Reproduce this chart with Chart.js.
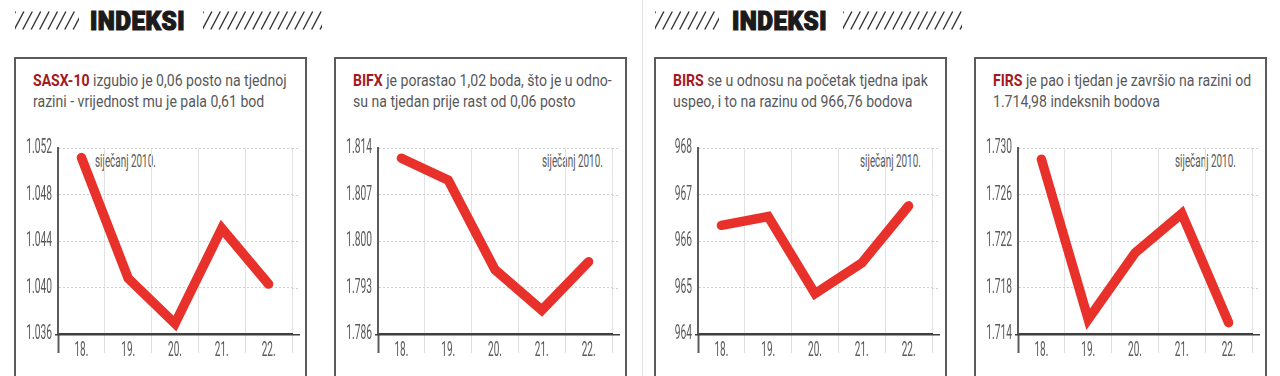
<!DOCTYPE html>
<html><head><meta charset="utf-8">
<script src="https://cdn.jsdelivr.net/npm/chart.js@4.4.1/dist/chart.umd.min.js"></script>
<style>
html,body{margin:0;padding:0;background:#fff}
body{width:1280px;height:376px;overflow:hidden;position:relative;font-family:Roboto,'Noto Sans',sans-serif;color:#58595b}
.divider{position:absolute;left:642px;top:0;width:1px;height:376px;background:#e3e3e3}
.title{position:absolute;top:9px;font:900 25px/25px Roboto,sans-serif;color:#1b1b1b;white-space:nowrap;transform-origin:0 0;display:inline-block;-webkit-text-stroke:1.2px #1b1b1b;letter-spacing:0.5px}
.box{position:absolute;top:57px;width:289px;height:340px;border:2px solid #5b5b5b}
.line{position:absolute;white-space:nowrap;font-size:16px;line-height:21px;transform-origin:0 0;display:inline-block}
.line b{color:#a5191e;font-weight:700}
.note{position:absolute;white-space:nowrap;font-size:18px;line-height:18px;transform-origin:0 0;color:#58595b;display:inline-block}
canvas{position:absolute;top:130px}
</style>
</head>
<body>
<div class="divider"></div>
<script>
// ---------- data ----------
const days = ['18.', '19.', '20.', '21.', '22.'];
const headerTitle = 'INDEKSI';
const noteText = 'siječanj 2010.';
const indexNames = ['SASX-10', 'BIFX', 'BIRS', 'FIRS'];
const textLine1 = [' izgubio je 0,06 posto na tjednoj', ' je porastao 1,02 boda, što je u odno-', ' se u odnosu na početak tjedna ipak', ' je pao i tjedan je završio na razini od'];
const textLine2 = ['razini - vrijednost mu je pala 0,61 bod', 'su na tjedan prije rast od 0,06 posto', 'uspeo, i to na razinu od 966,76 bodova', '1.714,98 indeksnih bodova'];

const sasxValues = [1051.2, 1040.8, 1036.9, 1045.1, 1040.3];
const sasxTicks  = [1036, 1040, 1044, 1048, 1052];
const bifxValues = [1812.5, 1809.2, 1795.7, 1789.6, 1796.9];
const bifxTicks  = [1786, 1793, 1800, 1807, 1814];
const birsValues = [966.34, 966.53, 964.87, 965.53, 966.76];
const birsTicks  = [964, 965, 966, 967, 968];
const firsValues = [1729.06, 1715.28, 1720.98, 1724.38, 1714.98];
const firsTicks  = [1714, 1718, 1722, 1726, 1730];

// ---------- layout ----------
const boxLefts = [14, 334, 654, 974];
const noteLefts = [95, 542, 860, 1175];
const seriesList = [sasxValues, bifxValues, birsValues, firsValues];
const tickList = [sasxTicks, bifxTicks, birsTicks, firsTicks];

function fmt(v){
  const s = Math.round(v).toString();
  return s.length > 3 ? s.slice(0, s.length - 3) + '.' + s.slice(-3) : s;
}

function el(tag, cls, css, html){
  const e = document.createElement(tag);
  if (cls) e.className = cls;
  if (css) e.style.cssText = css;
  if (html !== undefined) e.innerHTML = html;
  document.body.appendChild(e);
  return e;
}

function hatch(x0, x1){
  const ns = 'http://www.w3.org/2000/svg';
  const svg = document.createElementNS(ns, 'svg');
  const w = x1 - x0, h = 19;
  svg.setAttribute('width', w); svg.setAttribute('height', h);
  svg.style.cssText = 'position:absolute;left:' + x0 + 'px;top:11px';
  for (let x = -9; x < w; x += 8.4) {
    const l = document.createElementNS(ns, 'line');
    l.setAttribute('x1', x); l.setAttribute('y1', h - 0.5);
    l.setAttribute('x2', x + 9.5); l.setAttribute('y2', 0.5);
    l.setAttribute('stroke', '#333'); l.setAttribute('stroke-width', '1.4');
    svg.appendChild(l);
  }
  document.body.appendChild(svg);
}

// headers
hatch(15, 79); hatch(203, 322);
hatch(655, 719); hatch(843, 962);
const t1 = el('span', 'title', 'left:90px', headerTitle);
const t2 = el('span', 'title', 'left:732px', headerTitle);
const ts = 95 / t1.offsetWidth;
[t1, t2].forEach(t => t.style.transform = 'scaleX(' + ts + ')');

// boxes + texts
const lines = [];
const notes = [];
boxLefts.forEach((bl, i) => {
  el('div', 'box', 'left:' + bl + 'px');
  lines.push(el('span', 'line', 'left:' + (bl + 19) + 'px;top:70px', '<b>' + indexNames[i] + '</b>' + textLine1[i]));
  lines.push(el('span', 'line', 'left:' + (bl + 19) + 'px;top:91px', textLine2[i]));
  notes.push(el('span', 'note', 'left:' + noteLefts[i] + 'px;top:152px', noteText));
});
const ls = 254 / lines[0].offsetWidth;
lines.forEach(l => l.style.transform = 'scaleX(' + ls + ')');
const ns2 = 61 / notes[0].offsetWidth;
notes.forEach(n => n.style.transform = 'scaleX(' + ns2 + ')');

// ---------- chart plugins ----------
const CONDENSE = 0.5;
const condensePlugin = {
  id: 'condense',
  beforeDraw(chart){
    const ctx = chart.ctx;
    const proto = CanvasRenderingContext2D.prototype.fillText;
    ctx.fillText = function(t, x, y){
      this.save(); this.translate(x, y); this.scale(CONDENSE, 1);
      proto.call(this, t, 0, 0); this.restore();
    };
  },
  afterDraw(chart){ delete chart.ctx.fillText; }
};
const extendPlugin = {
  id: 'extend',
  beforeDatasetsDraw(chart){
    const {ctx, chartArea, scales} = chart;
    ctx.save();
    ctx.strokeStyle = '#cfcfcf'; ctx.lineWidth = 1; ctx.setLineDash([2, 2]);
    scales.y.ticks.forEach((t, i) => {
      if (i === 0) return;
      const y = Math.round(scales.y.getPixelForValue(t.value)) + 0.5;
      ctx.beginPath(); ctx.moveTo(chartArea.right, y); ctx.lineTo(chartArea.right + 8, y); ctx.stroke();
    });
    ctx.setLineDash([]);
    ctx.strokeStyle = '#3f3f3f'; ctx.lineWidth = 1.5;
    const yb = scales.x.top + 0.75;
    ctx.beginPath(); ctx.moveTo(chartArea.left - 3, yb); ctx.lineTo(chartArea.right + 8, yb); ctx.stroke();
    ctx.restore();
  }
};

function makeChart(i){
  const values = seriesList[i], ticks = tickList[i];
  const cv = document.createElement('canvas');
  cv.width = 293; cv.height = 246;
  cv.style.left = boxLefts[i] + 'px';
  document.body.appendChild(cv);
  new Chart(cv.getContext('2d'), {
    type: 'line',
    data: {
      labels: days,
      datasets: [{
        data: values, borderColor: '#e8312a', borderWidth: 9.5, pointRadius: 0,
        tension: 0, borderCapStyle: 'round', borderJoinStyle: 'miter', clip: false, fill: false
      }]
    },
    options: {
      responsive: false, animation: false, devicePixelRatio: 1,
      layout: {padding: {left: 0, top: 15, right: 15, bottom: 0}},
      plugins: {legend: {display: false}, tooltip: {enabled: false}},
      scales: {
        x: {
          type: 'category', offset: true,
          afterFit: s => { s.height = 42; },
          grid: {
            offset: true, lineWidth: 1, tickLength: 19,
            color: c => c.index === 0 ? '#5b5b5b' : '#e2e2e2',
            tickColor: c => c.index === 0 ? '#5b5b5b' : '#dcdcdc',
            tickWidth: c => c.index === 0 ? 2 : 1
          },
          border: {display: true, color: '#3f3f3f', width: 1.5},
          ticks: {padding: -14, color: '#58595b', font: {family: 'Roboto', size: 20}, maxRotation: 0, autoSkip: false}
        },
        y: {
          min: ticks[0], max: ticks[ticks.length - 1],
          afterFit: s => { s.width = 44; },
          ticks: {stepSize: ticks[1] - ticks[0], padding: 6, color: '#58595b', font: {family: 'Roboto', size: 20.5}, callback: v => fmt(v)},
          grid: {color: c => c.index === 0 ? 'rgba(0,0,0,0)' : '#cfcfcf', lineWidth: 1, drawTicks: false},
          border: {display: true, color: '#5b5b5b', width: 2, dash: [2, 2]}
        }
      }
    },
    plugins: [condensePlugin, extendPlugin]
  });
}
[0, 1, 2, 3].forEach(makeChart);
</script>
</body></html>
